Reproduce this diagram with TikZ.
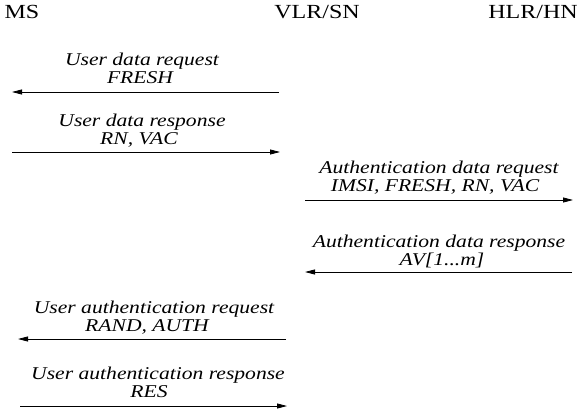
\documentclass[tikz,border=0pt]{standalone}
\usepackage{fontspec}
\setmainfont[FakeStretch=1.2]{Liberation Serif}
\usetikzlibrary{arrows.meta,positioning}

\begin{document}
\begin{tikzpicture}[x=1pt,y=-1pt,
  entity/.style={anchor=base,inner sep=0pt,font=\fontsize{20}{22}\selectfont},
  lbl/.style={anchor=base,inner sep=0pt,font=\fontsize{18}{18}\selectfont\itshape},
  msg/.style={-{Triangle[length=10pt,width=5pt]},line width=0.8pt}]
  \useasboundingbox (0,0) rectangle (577,415);
  % Teilnehmer
  \node[entity] (ms)  at (22,18)  {MS};
  \node[entity] (vlr) at (317,18) {VLR/SN};
  \node[entity] (hlr) at (533,18) {HLR/HN};
  % Endpunkte der Nachrichten
  \coordinate (a1s) at (279,92);  \coordinate (a1e) at (12,92);
  \coordinate (a2s) at (12,152);  \coordinate (a2e) at (280,152);
  \coordinate (a3s) at (305,200); \coordinate (a3e) at (573,200);
  \coordinate (a4s) at (572,272); \coordinate (a4e) at (305,272);
  \coordinate (a5s) at (286,339); \coordinate (a5e) at (18,339);
  \coordinate (a6s) at (20,406);  \coordinate (a6e) at (287,406);
  % Nachrichten
  \draw[msg] (a1s) -- (a1e);
  \node[lbl] (l1a) at (142,65)  {User data request};
  \node[lbl] (l1b) at (140,83)  {FRESH};
  \draw[msg] (a2s) -- (a2e);
  \node[lbl] (l2a) at (142,126) {User data response};
  \node[lbl] (l2b) at (139,144) {RN, VAC};
  \draw[msg] (a3s) -- (a3e);
  \node[lbl] (l3a) at (439,173) {Authentication data request};
  \node[lbl] (l3b) at (435,191) {IMSI, FRESH, RN, VAC};
  \draw[msg] (a4s) -- (a4e);
  \node[lbl] (l4a) at (439,247) {Authentication data response};
  \node[lbl] (l4b) at (442,265) {AV[1...m]};
  \draw[msg] (a5s) -- (a5e);
  \node[lbl] (l5a) at (154,313) {User authentication request};
  \node[lbl] (l5b) at (147,331) {RAND, AUTH};
  \draw[msg] (a6s) -- (a6e);
  \node[lbl] (l6a) at (158,379) {User authentication response};
  \node[lbl] (l6b) at (149,397) {RES};
\end{tikzpicture}
\end{document}
